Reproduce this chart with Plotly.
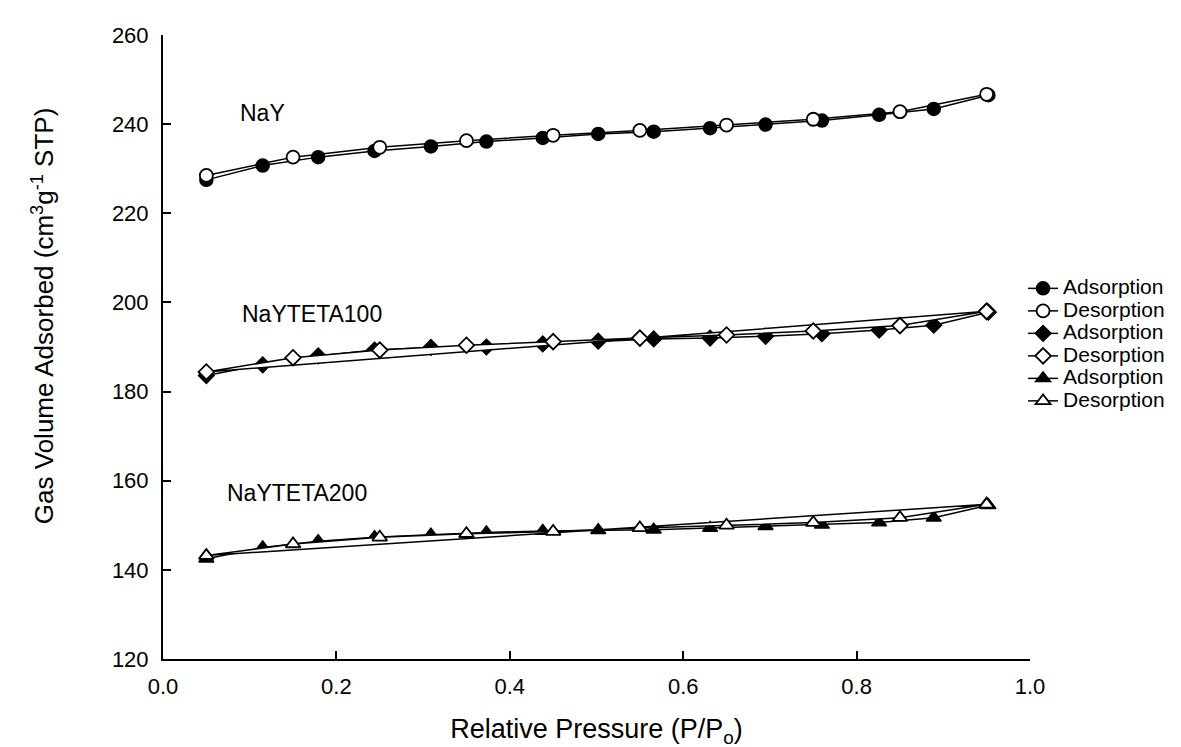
import plotly.graph_objects as go

# relative pressure points (adsorption branch up, desorption branch down)
p_ads = [0.05, 0.115, 0.179, 0.244, 0.309, 0.373, 0.438, 0.502,
         0.566, 0.631, 0.695, 0.760, 0.826, 0.889, 0.952]
p_des = [0.95, 0.85, 0.75, 0.65, 0.55, 0.45, 0.35, 0.25, 0.15, 0.05]

# NaY
nay_ads = [227.5, 230.7, 232.6, 234.0, 235.0, 236.1, 236.9, 237.8,
           238.3, 239.1, 239.9, 240.8, 242.1, 243.4, 246.5]
nay_des = [246.7, 242.8, 241.1, 239.8, 238.6, 237.5, 236.3, 234.8, 232.6, 228.5]

# NaYTETA100
t100_ads = [183.6, 186.0, 188.0, 189.3, 189.9, 190.0, 190.7, 191.3,
            191.8, 192.0, 192.4, 193.0, 193.8, 194.9, 197.8]
t100_des = [198.0, 194.8, 193.6, 192.7, 192.0, 191.2, 190.4, 189.3, 187.6, 184.4]

# NaYTETA200
t200_ads = [142.5, 145.0, 146.4, 147.3, 147.9, 148.4, 148.7, 148.9,
            149.0, 149.4, 149.8, 150.1, 150.6, 151.7, 154.5]
t200_des = [154.7, 151.7, 150.6, 150.0, 149.4, 148.6, 148.1, 147.3, 145.8, 143.2]

samples = ['NaY', 'NaYTETA100', 'NaYTETA200']
ads_data = [nay_ads, t100_ads, t200_ads]
des_data = [nay_des, t100_des, t200_des]
symbols = ['circle', 'diamond', 'triangle-up']
sizes = [13, 12, 13]

FONT = 'Arial, Liberation Sans, sans-serif'
# legend rows are tight in the original, so the row height comes from a small
# legend font while the text itself is drawn larger
LEG = '<span style="font-size:21px">%s</span>'

fig = go.Figure()

for i, name in enumerate(samples):
    # adsorption: filled markers
    fig.add_trace(go.Scatter(
        x=p_ads, y=ads_data[i], mode='lines+markers', name=LEG % 'Adsorption',
        line=dict(color='black', width=1.5),
        marker=dict(symbol=symbols[i], size=sizes[i], color='black',
                    line=dict(color='black', width=1.5))))
    # desorption: open markers (TETA samples drawn as a closed white area)
    xd, yd, fill = p_des, des_data[i], 'none'
    if i > 0:
        xd = p_des + [p_des[0]]
        yd = des_data[i] + [des_data[i][0]]
        fill = 'toself'
    fig.add_trace(go.Scatter(
        x=xd, y=yd, mode='lines+markers', name=LEG % 'Desorption',
        fill=fill, fillcolor='white',
        line=dict(color='black', width=1.5),
        marker=dict(symbol=symbols[i], size=sizes[i], color='white',
                    line=dict(color='black', width=1.8))))

# sample labels
labels = [('NaY', 0.087, 242.5), ('NaYTETA100', 0.089, 197.5), ('NaYTETA200', 0.071, 157.3)]
for txt, lx, ly in labels:
    fig.add_annotation(x=lx, y=ly, text=txt, showarrow=False, xanchor='left',
                       font=dict(size=23, color='black', family=FONT))

# y axis title (sits a little above the axis middle in the original)
fig.add_annotation(xref='paper', yref='paper', x=-0.138, y=0.55, textangle=-90,
                   text='Gas Volume Adsorbed (cm<sup>3</sup>g<sup>-1</sup> STP)',
                   showarrow=False, xanchor='center', yanchor='middle',
                   font=dict(size=26, color='black', family=FONT))

fig.update_layout(
    width=1181, height=747,
    margin=dict(l=155, r=159, t=27, b=96),
    paper_bgcolor='white', plot_bgcolor='white',
    font=dict(family=FONT, color='black'),
    legend=dict(x=0.992, y=0.62, xanchor='left', yanchor='top',
                font=dict(size=15, family=FONT), bgcolor='rgba(0,0,0,0)',
                tracegroupgap=0),
)

fig.update_xaxes(
    range=[0, 1.0], tickvals=[0, 0.2, 0.4, 0.6, 0.8, 1.0], tickformat='.1f',
    showgrid=False, zeroline=False, showline=True, linecolor='black', linewidth=2,
    ticks='inside', ticklen=8, tickwidth=1.5, tickcolor='black',
    tickfont=dict(size=22), ticklabelstandoff=7,
    title=dict(text='Relative Pressure (P/P<sub>o</sub>)', font=dict(size=27), standoff=21))

fig.update_yaxes(
    range=[120, 260], tickvals=[120, 140, 160, 180, 200, 220, 240, 260],
    showgrid=False, zeroline=False, showline=True, linecolor='black', linewidth=2,
    ticks='inside', ticklen=8, tickwidth=1.5, tickcolor='black',
    tickfont=dict(size=22), ticklabelstandoff=8)

fig.write_html("out.html")
